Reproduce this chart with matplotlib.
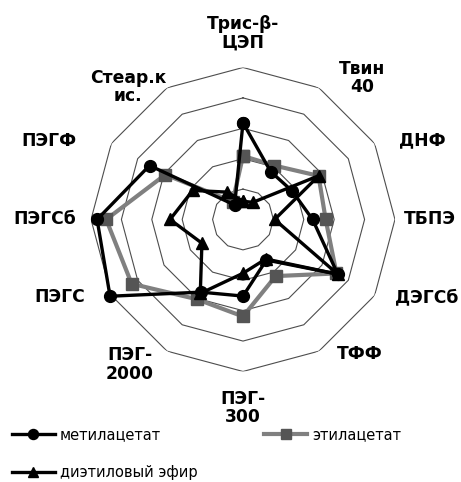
import numpy as np
import matplotlib
matplotlib.use("Agg")
import matplotlib.pyplot as plt

plt.rcParams['font.family'] = ['DejaVu Sans']

# categories clockwise from top
categories = ['Трис-β-\nЦЭП', 'Твин\n40', 'ДНФ', 'ТБПЭ', 'ДЭГСб', 'ТФФ',
              'ПЭГ-\n300', 'ПЭГ-\n2000', 'ПЭГС', 'ПЭГСб', 'ПЭГФ', 'Стеар.к\nис.']

# values (rings at 1..5)
metil = [3.18, 1.82, 1.87, 2.29, 3.6, 1.54, 2.52, 2.76, 5.05, 4.8, 3.55, 0.55]
ethyl = [2.09, 2.05, 2.87, 2.72, 3.55, 2.15, 3.19, 3.03, 4.23, 4.5, 2.95, 0.68]
ether = [0.6, 0.65, 2.88, 1.04, 3.6, 1.5, 1.77, 2.81, 1.56, 2.4, 1.91, 1.04]
rings = [1, 2, 3, 4, 5]

# label placement (angle in degrees clockwise from top, radius in data units)
label_ang = [0, 40, 66, 90, 113, 139, 180, 218, 247, 270, 292, 319]
label_r = [6.13, 6.08, 6.44, 6.15, 6.55, 5.86, 6.2, 6.06, 6.54, 6.51, 6.87, 5.77]

n = len(categories)
theta = np.linspace(0, 2 * np.pi, n, endpoint=False)
th = np.append(theta, theta[0])

def closed(v):
    return np.append(v, v[0])

fig = plt.figure(figsize=(4.61, 4.82), dpi=100)
ax = fig.add_axes([0.1974, 0.2293, 0.6594, 0.6307], projection='polar')
ax.set_theta_offset(np.pi / 2)
ax.set_theta_direction(-1)
ax.set_ylim(0, 5)
ax.grid(False)
ax.spines['polar'].set_visible(False)
ax.set_xticks([])
ax.set_yticks([])
ax.patch.set_alpha(0)

# polygon grid
for r in rings:
    ax.plot(th, [r] * (n + 1), color='#4d4d4d', lw=0.8, zorder=1)

l_eth, = ax.plot(th, closed(ethyl), color='#808080', lw=3, marker='s',
                 markersize=8, markerfacecolor='#555555', markeredgecolor='#555555',
                 zorder=3, clip_on=False, label='этилацетат')
l_met, = ax.plot(th, closed(metil), color='black', lw=2.4, marker='o',
                 markersize=8.5, zorder=4, clip_on=False, label='метилацетат')
l_eter, = ax.plot(th, closed(ether), color='black', lw=2.4, marker='^',
                  markersize=8.5, zorder=5, clip_on=False, label='диэтиловый эфир')

for lab, a, r in zip(categories, label_ang, label_r):
    ax.text(np.deg2rad(a), r, lab, ha='center', va='center', fontsize=12.3,
            fontweight='bold', linespacing=1.05)

fig.legend(handles=[l_met, l_eter, l_eth], loc='upper left',
           bbox_to_anchor=(0.026, 0.113), ncol=2, frameon=False,
           fontsize=10.5, handlelength=2.95, handletextpad=0.35,
           columnspacing=4.55, labelspacing=1.55, borderpad=0, numpoints=1,
           borderaxespad=0, markerscale=0.85)

fig.savefig('out.png', dpi=100)
